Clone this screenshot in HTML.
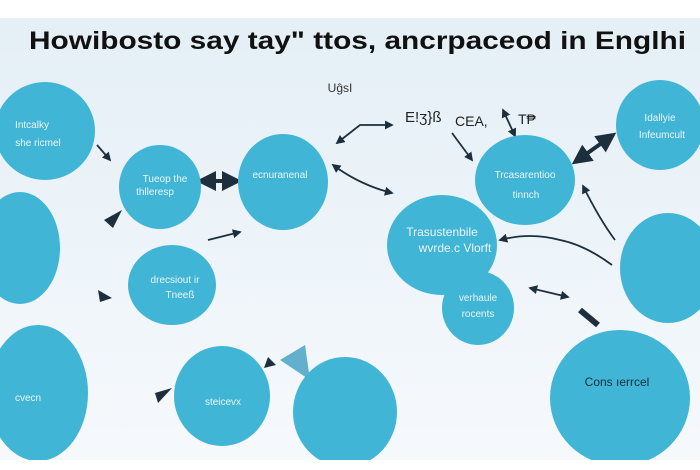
<!DOCTYPE html>
<html><head><meta charset="utf-8"><style>
html,body{margin:0;padding:0;width:700px;height:470px;overflow:hidden;background:#fff}
svg{display:block}
text{font-family:"Liberation Sans",sans-serif}
</style></head><body>
<svg width="700" height="470" viewBox="0 0 700 470">
<defs>
<linearGradient id="bg" x1="0" y1="0" x2="0" y2="1">
<stop offset="0" stop-color="#e4eff6"/><stop offset="0.5" stop-color="#edf4f9"/><stop offset="1" stop-color="#f6f9fc"/>
</linearGradient>
<marker id="a" viewBox="0 0 10 10" refX="8" refY="5" markerWidth="5" markerHeight="5" orient="auto-start-reverse"><path d="M0,0L10,5L0,10z" fill="#1d2f3d"/></marker>
</defs>
<rect width="700" height="470" fill="#fff"/>
<rect y="18" width="700" height="442" fill="url(#bg)"/>
<text x="29" y="49" font-size="25" font-weight="bold" fill="#111" textLength="657" lengthAdjust="spacingAndGlyphs">Howibosto say tay" ttos, ancrpaceod in Englhi</text>
<text x="340" y="92" text-anchor="middle" font-size="12" fill="#333">UĝsI</text>
<text x="405" y="122" font-size="15" fill="#222">E!ʒ}ß</text>
<text x="455" y="126" font-size="14" fill="#222">CEA,</text>
<text x="518" y="124" font-size="14" fill="#222">T₱</text>
<g fill="none" stroke="#1d2f3d" stroke-width="1.8">
<path d="M337,143L360,125L392,125" marker-start="url(#a)" marker-end="url(#a)"/>
<path d="M333,165Q360,185 392,193" marker-start="url(#a)" marker-end="url(#a)"/>
<path d="M452,133L472,160" marker-end="url(#a)"/>
<path d="M503,110L515,136" marker-start="url(#a)" marker-end="url(#a)"/>
<path d="M575,162L613,135" stroke-width="4" marker-start="url(#a)" marker-end="url(#a)"/>
<path d="M583,186Q600,220 615,240" marker-start="url(#a)"/>
<path d="M97,145L110,160" marker-end="url(#a)"/>
<path d="M200,181L238,181" stroke-width="4" marker-start="url(#a)" marker-end="url(#a)"/>
<path d="M500,240Q530,232 560,240Q585,245 612,265" marker-start="url(#a)"/>
<path d="M530,288L568,297" marker-start="url(#a)" marker-end="url(#a)"/>
<path d="M580,310L598,325" stroke-width="6"/>
<path d="M208,240L240,232" marker-end="url(#a)"/>
</g>
<path d="M104,220L122,210L113,228z" fill="#1d2f3d"/>
<path d="M98,290L112,298L100,302z" fill="#1d2f3d"/>
<path d="M155,393L172,388L158,403z" fill="#1d2f3d"/>
<path d="M268,357L276,365L264,368z" fill="#1d2f3d"/>
<path d="M280,360L305,345L310,380z" fill="#3d9ec0" opacity="0.8"/>
<g fill="#41b5d6">
<ellipse cx="45" cy="131" rx="50" ry="49"/>
<ellipse cx="160" cy="187" rx="41" ry="42"/>
<ellipse cx="283" cy="182" rx="45" ry="48"/>
<ellipse cx="20" cy="248" rx="40" ry="56"/>
<ellipse cx="172" cy="285" rx="44" ry="40"/>
<ellipse cx="660" cy="125" rx="44" ry="45"/>
<ellipse cx="525" cy="180" rx="50" ry="45"/>
<ellipse cx="442" cy="245" rx="55" ry="50"/>
<ellipse cx="478" cy="308" rx="36" ry="37"/>
<ellipse cx="668" cy="268" rx="48" ry="55"/>
<ellipse cx="38" cy="393" rx="50" ry="68"/>
<ellipse cx="222" cy="396" rx="48" ry="50"/>
<ellipse cx="345" cy="412" rx="52" ry="55"/>
<ellipse cx="620" cy="398" rx="70" ry="68"/>
</g>
<rect y="460" width="700" height="10" fill="#fff"/>
<g fill="#eaf6fa" font-size="10" text-anchor="middle">
<text x="32" y="128">Intcalky</text>
<text x="38" y="146">she ricmel</text>
<text x="165" y="182">Tueop the</text>
<text x="155" y="195">thlleresp</text>
<text x="280" y="178">ecnuranenal</text>
<text x="660" y="121">Idallyie</text>
<text x="662" y="138">Infeumcult</text>
<text x="525" y="178">Trcasarentioo</text>
<text x="526" y="198">tinnch</text>
<text x="442" y="236" font-size="12">Trasustenbile</text>
<text x="455" y="252" font-size="12">wvrde.c  Vlorft</text>
<text x="175" y="283">drecsiout ir</text>
<text x="180" y="298">Tneeß</text>
<text x="478" y="301">verhaule</text>
<text x="478" y="317">rocents</text>
<text x="28" y="401">cvecn</text>
<text x="223" y="405">steicevx</text>
</g>
<text x="617" y="386" text-anchor="middle" font-size="12" fill="#15303f">Cons ıerrcel</text>
</svg>
</body></html>
